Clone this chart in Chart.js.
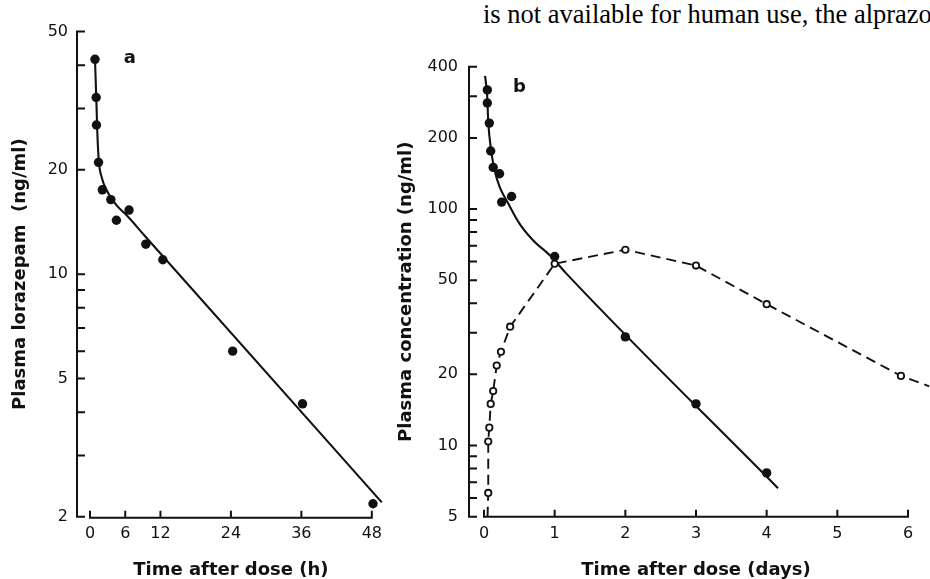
<!DOCTYPE html>
<html>
<head>
<meta charset="utf-8">
<script src="https://cdn.jsdelivr.net/npm/chart.js@4.4.1/dist/chart.umd.min.js"></script>
<style>
  html, body { margin: 0; padding: 0; background: #fff; overflow: hidden; }
  body { width: 930px; height: 579px; position: relative; }
  canvas { position: absolute; top: 0; }
  #chartA { left: 0; }
  #chartB { left: 390px; }
  .running {
    position: absolute; left: 483px; top: 1px;
    font: 26.5px/26px 'Liberation Serif', serif; color: #000; white-space: nowrap;
  }
</style>
</head>
<body>
<div class="running">is not available for human use, the alprazo</div>
<canvas id="chartA" width="390" height="579"></canvas>
<canvas id="chartB" width="540" height="579"></canvas>
<script>
const INK = '#111';

/* panel a - lorazepam, hours */
const aHours = [0.85, 1.05, 1.1, 1.45, 2.1, 3.55, 4.5, 6.65, 9.5, 12.4, 24.3, 36.2, 48.2];
const aConc = [41.6, 32.3, 26.9, 21.0, 17.5, 16.4, 14.3, 15.3, 12.2, 11.0, 6.0, 4.23, 2.18];
const aFitHours = [0.85, 1.1, 1.25, 1.5, 2.0, 2.8, 4.5, 6.2, 9.5, 49.7];
const aFitConc = [41.6, 31, 25.5, 21.2, 19.0, 17.5, 15.8, 14.8, 12.8, 2.2];
const aXTicks = [0, 6, 12, 24, 36, 48];
const aYTicks = [2, 5, 10, 20, 50];
const aYMinor = [3, 4, 6, 7, 8, 9, 30, 40];

/* panel b - days */
const bFilledDays = [0.047, 0.047, 0.075, 0.095, 0.13, 0.22, 0.25, 0.39, 1, 2, 3, 4];
const bFilled = [319, 281, 231, 176, 150, 141, 107, 113, 63, 28.8, 15.0, 7.66];
const bOpenDays = [0.06, 0.06, 0.075, 0.095, 0.13, 0.18, 0.24, 0.37, 1, 2, 3, 4, 5.9];
const bOpen = [6.3, 10.4, 11.9, 15.0, 17.0, 21.8, 24.9, 31.8, 58.7, 67.3, 57.7, 39.6, 19.7];
const bFitDays = [0.015, 0.045, 0.06, 0.1, 0.15, 0.22, 0.34, 0.5, 0.69, 0.95, 1.16, 4.16];
const bFit = [366, 300, 234, 178, 146, 124.5, 106, 87, 74, 63, 53.6, 6.6];
const bDashDays = [0.05, 0.06, 0.06, 0.075, 0.095, 0.13, 0.18, 0.24, 0.37, 1, 2, 3, 4, 5.9, 6.3];
const bDash = [5.0, 6.3, 10.4, 11.9, 15.0, 17.0, 21.8, 24.9, 31.8, 58.7, 67.3, 57.7, 39.6, 19.7, 17.8];
const bXTicks = [0, 1, 2, 3, 4, 5, 6];
const bYTicks = [5, 10, 20, 50, 100, 200, 400];
const bYMinor = [6, 7, 8, 9, 30, 40, 60, 70, 80, 90, 300];

const pts = (xs, ys) => xs.map((x, i) => ({ x, y: ys[i] }));

const tickFont = { family: 'DejaVu Sans', size: 16 };
const titleFont = { family: 'DejaVu Sans', size: 18, weight: 'bold', lineHeight: 1 };

// axis lines with inward tick marks, plus the panel letter
const frame = {
  id: 'frame',
  beforeDatasetsDraw(chart, args, o) {
    const { ctx, chartArea: area, scales: { x, y } } = chart;
    const ax = area.left - o.gap;
    const ay = area.bottom + o.drop;
    ctx.save();
    ctx.strokeStyle = INK;
    ctx.lineWidth = 2;
    ctx.beginPath();
    ctx.moveTo(ax, y.getPixelForValue(y.max) - 1);
    ctx.lineTo(ax, y.getPixelForValue(y.min) + 1);
    o.yTicks.concat(o.yMinor).forEach(v => {
      const py = y.getPixelForValue(v);
      ctx.moveTo(ax - 1, py);
      ctx.lineTo(ax + 8, py);
    });
    const x0 = x.getPixelForValue(o.xTicks[0]);
    const x1 = x.getPixelForValue(o.xTicks[o.xTicks.length - 1]);
    ctx.moveTo(x0 - 1, ay);
    ctx.lineTo(x1 + 1, ay);
    o.xTicks.forEach(v => {
      const px = x.getPixelForValue(v);
      ctx.moveTo(px, ay + 1);
      ctx.lineTo(px, ay - 7);
    });
    ctx.stroke();
    ctx.fillStyle = INK;
    ctx.font = 'bold 18px "DejaVu Sans"';
    ctx.textAlign = 'center';
    ctx.fillText(o.tag.text, x.getPixelForValue(o.tag.x), y.getPixelForValue(o.tag.y));
    ctx.restore();
  }
};

const dots = (data, open) => ({
  data, showLine: false, clip: false,
  pointRadius: open ? 3.2 : 4.7,
  pointBackgroundColor: open ? '#fff' : INK,
  pointBorderColor: INK,
  pointBorderWidth: open ? 1.8 : 0,
});
const curve = (data, dash) => ({
  data, showLine: true, clip: false, pointRadius: 0,
  borderColor: INK, borderWidth: dash ? 1.9 : 2.1,
  borderDash: dash ? [10, 6] : [],
  cubicInterpolationMode: dash ? 'default' : 'monotone',
});

function panel(id, c) {
  return new Chart(document.getElementById(id), {
    type: 'scatter',
    data: { datasets: c.datasets },
    options: {
      responsive: false,
      animation: false,
      devicePixelRatio: 1,
      layout: { padding: c.padding },
      plugins: { legend: { display: false }, tooltip: { enabled: false }, frame: c.frame },
      scales: {
        x: {
          type: 'linear', min: c.xTicks[0], max: c.xTicks[c.xTicks.length - 1],
          grid: { display: false, drawTicks: false }, border: { display: false },
          afterBuildTicks: s => { s.ticks = c.xTicks.map(v => ({ value: v })); },
          afterFit: s => { s.height = c.xHeight; },
          ticks: { font: tickFont, color: INK, padding: 8, maxRotation: 0, autoSkip: false, callback: v => String(v) },
          title: { display: true, text: c.xTitle, font: titleFont, color: INK, padding: { top: 0, bottom: 0 } },
        },
        y: {
          type: 'logarithmic', min: c.yTicks[0], max: c.yTicks[c.yTicks.length - 1],
          grid: { display: false, drawTicks: false }, border: { display: false },
          afterBuildTicks: s => { s.ticks = c.yTicks.map(v => ({ value: v })); },
          afterFit: s => { s.width = c.yWidth; },
          ticks: { font: tickFont, color: INK, padding: c.yPad, autoSkip: false, callback: v => String(v) },
          title: { display: true, text: c.yTitle, font: titleFont, color: INK, padding: { top: c.yTitlePad, bottom: 0 } },
        },
      },
    },
    plugins: [frame],
  });
}

panel('chartA', {
  datasets: [dots(pts(aHours, aConc)), curve(pts(aFitHours, aFitConc))],
  xTicks: aXTicks, yTicks: aYTicks,
  padding: { left: 0, top: 20, right: 16.7, bottom: 0 },
  xHeight: 62.3, yWidth: 90, yPad: 22, yTitlePad: 11,
  xTitle: 'Time after dose (h)', yTitle: 'Plasma lorazepam  (ng/ml)',
  frame: { gap: 13, drop: 1, xTicks: aXTicks, yTicks: aYTicks, yMinor: aYMinor, tag: { text: 'a', x: 6.8, y: 40.7 } },
});

panel('chartB', {
  datasets: [
    dots(pts(bFilledDays, bFilled)),
    dots(pts(bOpenDays, bOpen), true),
    curve(pts(bFitDays, bFit)),
    curve(pts(bDashDays, bDash), true),
  ],
  xTicks: bXTicks, yTicks: bYTicks,
  padding: { left: 0, top: 66.7, right: 22, bottom: 0 },
  xHeight: 62.3, yWidth: 94, yPad: 26, yTitlePad: 7,
  xTitle: 'Time after dose (days)', yTitle: 'Plasma concentration (ng/ml)',
  frame: { gap: 15, drop: 0, xTicks: bXTicks, yTicks: bYTicks, yMinor: bYMinor, tag: { text: 'b', x: 0.5, y: 313.7 } },
});
</script>
</body>
</html>
